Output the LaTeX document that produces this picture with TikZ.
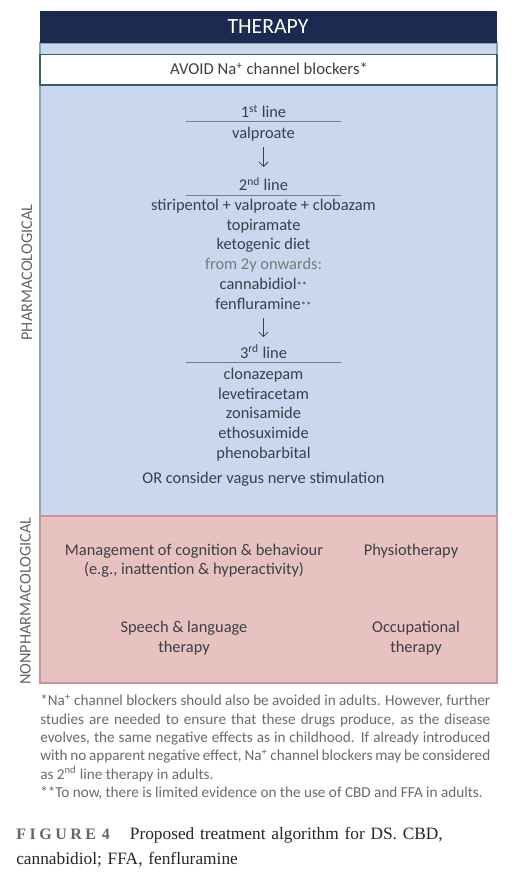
\documentclass[tikz,border=0pt]{standalone}
\usepackage{fontspec}
\setmainfont{Carlito}
\newfontfamily\capfont{Liberation Serif}
\newfontfamily\capspaced[LetterSpace=22]{Liberation Serif}
\usetikzlibrary{arrows.meta}

\definecolor{headnavy}{HTML}{1B2A4E}
\definecolor{pharmfill}{HTML}{C9D7EF}
\definecolor{pharmline}{HTML}{8AA4B4}
\definecolor{avoidline}{HTML}{3D5E66}
\definecolor{nonfill}{HTML}{E7C2C1}
\definecolor{nonline}{HTML}{C99494}
\definecolor{bodytext}{HTML}{3B3F48}
\definecolor{softgray}{HTML}{7A7A7A}
\definecolor{notegray}{HTML}{6A6A6A}
\definecolor{rulecol}{HTML}{6E7F8F}

\newcommand{\twostars}{{\fontsize{8}{8}\selectfont **}}

\tikzset{
    drug/.style={inner sep=0pt, anchor=base, text=bodytext, font=\fontsize{12.3}{14}\selectfont},
    stage/.style={drug},
    side/.style={inner sep=0pt, rotate=90, text=bodytext!80, font=\fontsize{12.2}{14}\selectfont},
    care/.style={inner sep=0pt, anchor=base, text=bodytext, align=center, font=\fontsize{12.3}{14.6}\selectfont},
    flow/.style={-{Straight Barb[length=3.5pt, width=7pt]}, line width=0.6pt, draw=bodytext},
    stagerule/.style={draw=rulecol, line width=0.6pt}
}

\begin{document}
\begin{tikzpicture}[x=0.75pt, y=-0.75pt]
    \useasboundingbox (0,0) rectangle (520,887);

    % boxes
    \draw[fill=pharmfill, draw=pharmline, line width=0.8pt] (40,43) rectangle (497,516);
    \draw[fill=nonfill, draw=nonline, line width=0.8pt] (40,516) rectangle (497,683);
    \fill[headnavy] (39.6,11.5) rectangle (497.4,43);
    \draw[fill=white, draw=avoidline, line width=0.9pt] (40,54.5) rectangle (497,85);

    \node[inner sep=0pt, text=white, font=\fontsize{16.3}{18}\selectfont] (therapy) at (268, 27) {THERAPY};
    \node[inner sep=0pt, anchor=base, text=bodytext, font=\fontsize{12.5}{14}\selectfont] (avoid) at (269, 75) {AVOID Na\textsuperscript{+} channel blockers*};

    % side labels
    \node[side] (pharm) at (27, 272.5) {PHARMACOLOGICAL};
    \node[side] (nonpharm) at (25.5, 601) {NONPHARMACOLOGICAL};

    % first line
    \node[stage] (line1) at (263.5, 118) {1\textsuperscript{st} line};
    \draw[stagerule] (186,121) -- (341,121);
    \node[drug] (valproate) at (263.5, 138.5) {valproate};

    % second line
    \node[stage] (line2) at (263.5, 191) {2\textsuperscript{nd} line};
    \draw[stagerule] (186,195.5) -- (341,195.5);
    \node[drug] (stiri) at (263.5, 210.5) {stiripentol + valproate + clobazam};
    \node[drug] (topi) at (263.5, 230.5) {topiramate};
    \node[drug] (keto) at (263.5, 250) {ketogenic diet};
    \node[drug, text=softgray] (from2y) at (263.5, 270) {from 2y onwards:};
    \node[drug] (cbd) at (263.5, 289.5) {cannabidiol\twostars};
    \node[drug] (ffa) at (263.5, 309.5) {fenfluramine\twostars};

    % third line
    \node[stage] (line3) at (263.5, 358.5) {3\textsuperscript{rd} line};
    \draw[stagerule] (186,362.5) -- (341,362.5);
    \node[drug] (clona) at (263.5, 379) {clonazepam};
    \node[drug] (leve) at (263.5, 399) {levetiracetam};
    \node[drug] (zoni) at (263.5, 418.5) {zonisamide};
    \node[drug] (etho) at (263.5, 438.5) {ethosuximide};
    \node[drug] (pheno) at (263.5, 458) {phenobarbital};
    \node[drug] (vagus) at (263.5, 483) {OR consider vagus nerve stimulation};

    \draw[flow, shorten <=6.5pt, shorten >=18pt] (valproate.base) -- (line2.base);
    \draw[flow, shorten <=6.5pt, shorten >=16pt] (ffa.base) -- (line3.base);

    % nonpharmacological
    \node[care, anchor=north] (cognition) at (194, 543.5) {Management of cognition \& behaviour\\(e.g., inattention \& hyperactivity)};
    \node[care] (physio) at (411, 555.5) {Physiotherapy};
    \node[care, anchor=north] (speech) at (184, 621) {Speech \& language\\therapy};
    \node[care, anchor=north] (occup) at (416, 621) {Occupational\\therapy};

    % notes
    \node[inner sep=0pt, anchor=north west, text width=337.5pt, align=justify, text=notegray,
          font=\fontsize{11.4}{13.75}\selectfont] (notes) at (40, 694.5)
        {*Na\textsuperscript{+} channel blockers should also be avoided in adults. However, further\linebreak
        studies are needed to ensure that these drugs produce, as the disease\linebreak
        evolves, the same negative effects as in childhood. If already introduced\linebreak
        with no apparent negative effect, Na\textsuperscript{+} channel blockers may be considered\linebreak
        as 2\textsuperscript{nd} line therapy in adults.\par
        **To now, there is limited evidence on the use of CBD and FFA in adults.};

    % caption
    \node[inner sep=0pt, anchor=north west, text width=390pt, align=left, text=black!85,
          font=\capfont\fontsize{13}{18.5}\selectfont] (caption) at (16, 827)
        {{\capspaced\bfseries\color{black!60}\fontsize{12}{13}\selectfont FIGURE 4}\hspace{15pt}Proposed treatment algorithm for DS. CBD,\\
        cannabidiol; FFA, fenfluramine};
\end{tikzpicture}
\end{document}
